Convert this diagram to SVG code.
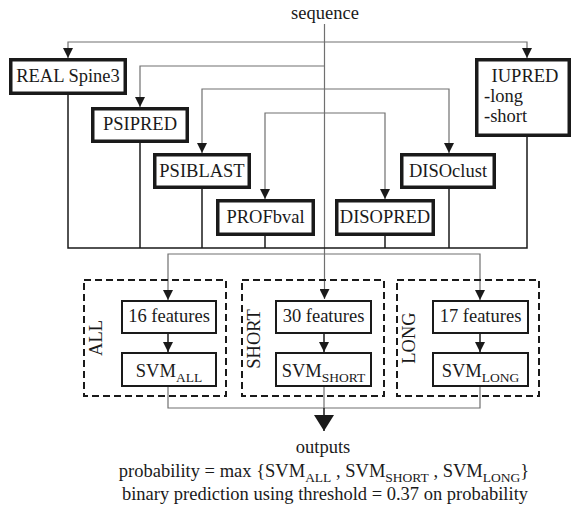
<svg xmlns="http://www.w3.org/2000/svg" width="573" height="508" viewBox="0 0 573 508">
<style>
text{font-family:"Liberation Serif","Times New Roman",serif;fill:#1a1a1a;font-size:18.5px}
.lbl{font-size:18.5px;text-anchor:middle}
.c{text-anchor:middle}
.sub{font-size:13.5px}
.tool{fill:#fff;stroke:#1a1a1a;stroke-width:3.5}
.feat{fill:#fff;stroke:#1a1a1a;stroke-width:2}
.grp{fill:none;stroke:#1a1a1a;stroke-width:2;stroke-dasharray:7 4}
.in{fill:none;stroke:#707070;stroke-width:1.2}
.out{fill:none;stroke:#1a1a1a;stroke-width:1.5}
</style>
<defs>
<marker id="arr" viewBox="0 0 10 10" refX="10" refY="5" markerWidth="10" markerHeight="10" orient="auto" markerUnits="userSpaceOnUse"><path d="M0,0 L10,5 L0,10 z" fill="#1a1a1a"/></marker>
<marker id="big" viewBox="0 0 16 20" refX="16" refY="10" markerWidth="16" markerHeight="20" orient="auto" markerUnits="userSpaceOnUse"><path d="M0,0 L16,10 L0,20 z" fill="#1a1a1a"/></marker>
</defs>

<g id="connectors">
<path class="in" d="M324.5,24 V299" marker-end="url(#arr)"/>
<path class="in" d="M324.5,42 H68 V58" marker-end="url(#arr)"/>
<path class="in" d="M324.5,42 H527 V58" marker-end="url(#arr)"/>
<path class="in" d="M324.5,66 H140 V107" marker-end="url(#arr)"/>
<path class="in" d="M324.5,89 H202 V153" marker-end="url(#arr)"/>
<path class="in" d="M324.5,89 H449 V153" marker-end="url(#arr)"/>
<path class="in" d="M324.5,113 H265 V199" marker-end="url(#arr)"/>
<path class="in" d="M324.5,113 H385 V199" marker-end="url(#arr)"/>
<path class="out" d="M68,95 V248 H527 V137"/>
<path class="out" d="M140,143 V248"/>
<path class="out" d="M202,189 V248"/>
<path class="out" d="M265,236 V248"/>
<path class="out" d="M385,236 V248"/>
<path class="out" d="M449,189 V248"/>
<path class="in" d="M324.5,254 H168 V300" marker-end="url(#arr)"/>
<path class="in" d="M324.5,254 H480 V300" marker-end="url(#arr)"/>
<path class="out" d="M168,334 V352" marker-end="url(#arr)"/>
<path class="out" d="M324,334 V352" marker-end="url(#arr)"/>
<path class="out" d="M480,334 V352" marker-end="url(#arr)"/>
<path class="in" d="M168,387 V408 H480 V387"/>
<path class="in" d="M324,387 V408"/>
<path class="out" d="M324,408 V431" marker-end="url(#big)"/>
</g>

<text class="c" x="325" y="19">sequence</text>

<g id="real">
<rect class="tool" x="10.75" y="59.75" width="114.5" height="33.5"/>
<text class="lbl" x="68" y="82">REAL Spine3</text>
</g>
<g id="psipred">
<rect class="tool" x="92.75" y="108.75" width="94.5" height="32.5"/>
<text class="lbl" x="140" y="130">PSIPRED</text>
</g>
<g id="psiblast">
<rect class="tool" x="154.75" y="154.75" width="94.5" height="32.5"/>
<text class="lbl" x="202" y="177">PSIBLAST</text>
</g>
<g id="profbval">
<rect class="tool" x="217.75" y="200.75" width="95.5" height="33.5"/>
<text class="lbl" x="265.5" y="223">PROFbval</text>
</g>
<g id="disopred">
<rect class="tool" x="336.75" y="200.75" width="96.5" height="33.5"/>
<text class="lbl" x="385" y="223">DISOPRED</text>
</g>
<g id="disoclust">
<rect class="tool" x="401.75" y="154.75" width="92.5" height="32.5"/>
<text class="lbl" x="448" y="177">DISOclust</text>
</g>
<g id="iupred">
<rect class="tool" x="476.75" y="59.75" width="92.5" height="75.5"/>
<text class="c" x="525" y="82">IUPRED</text>
<text x="484" y="102">-long</text>
<text x="484" y="122">-short</text>
</g>

<g id="all">
<rect class="grp" x="84" y="280" width="142" height="116"/>
<text class="c" transform="translate(102,338) rotate(-90)">ALL</text>
<g id="feat16">
<rect class="feat" x="122" y="301" width="94" height="32"/>
<text class="c" x="169" y="322">16 features</text>
</g>
<g id="svmall">
<rect class="feat" x="122" y="353" width="94" height="33"/>
<text class="c" x="169" y="377">SVM<tspan class="sub" dy="5">ALL</tspan></text>
</g>
</g>

<g id="short">
<rect class="grp" x="242" y="280" width="142" height="116"/>
<text class="c" transform="translate(260,339) rotate(-90)">SHORT</text>
<g id="feat30">
<rect class="feat" x="276" y="301" width="95" height="32"/>
<text class="c" x="323.5" y="322">30 features</text>
</g>
<g id="svmshort">
<rect class="feat" x="276" y="353" width="95" height="33"/>
<text class="c" x="323.5" y="377">SVM<tspan class="sub" dy="5">SHORT</tspan></text>
</g>
</g>

<g id="long">
<rect class="grp" x="397" y="280" width="142" height="116"/>
<text class="c" transform="translate(415,338) rotate(-90)">LONG</text>
<g id="feat17">
<rect class="feat" x="433" y="301" width="95" height="32"/>
<text class="c" x="480.5" y="322">17 features</text>
</g>
<g id="svmlong">
<rect class="feat" x="433" y="353" width="95" height="33"/>
<text class="c" x="480.5" y="377">SVM<tspan class="sub" dy="5">LONG</tspan></text>
</g>
</g>

<text class="c" x="323" y="453">outputs</text>
<text class="c" x="324" y="477">probability = max {SVM<tspan class="sub" dy="5">ALL</tspan><tspan dy="-5"> , SVM</tspan><tspan class="sub" dy="5">SHORT</tspan><tspan dy="-5"> , SVM</tspan><tspan class="sub" dy="5">LONG</tspan><tspan dy="-5">}</tspan></text>
<text class="c" x="325" y="500">binary prediction using threshold = 0.37 on probability</text>
</svg>
